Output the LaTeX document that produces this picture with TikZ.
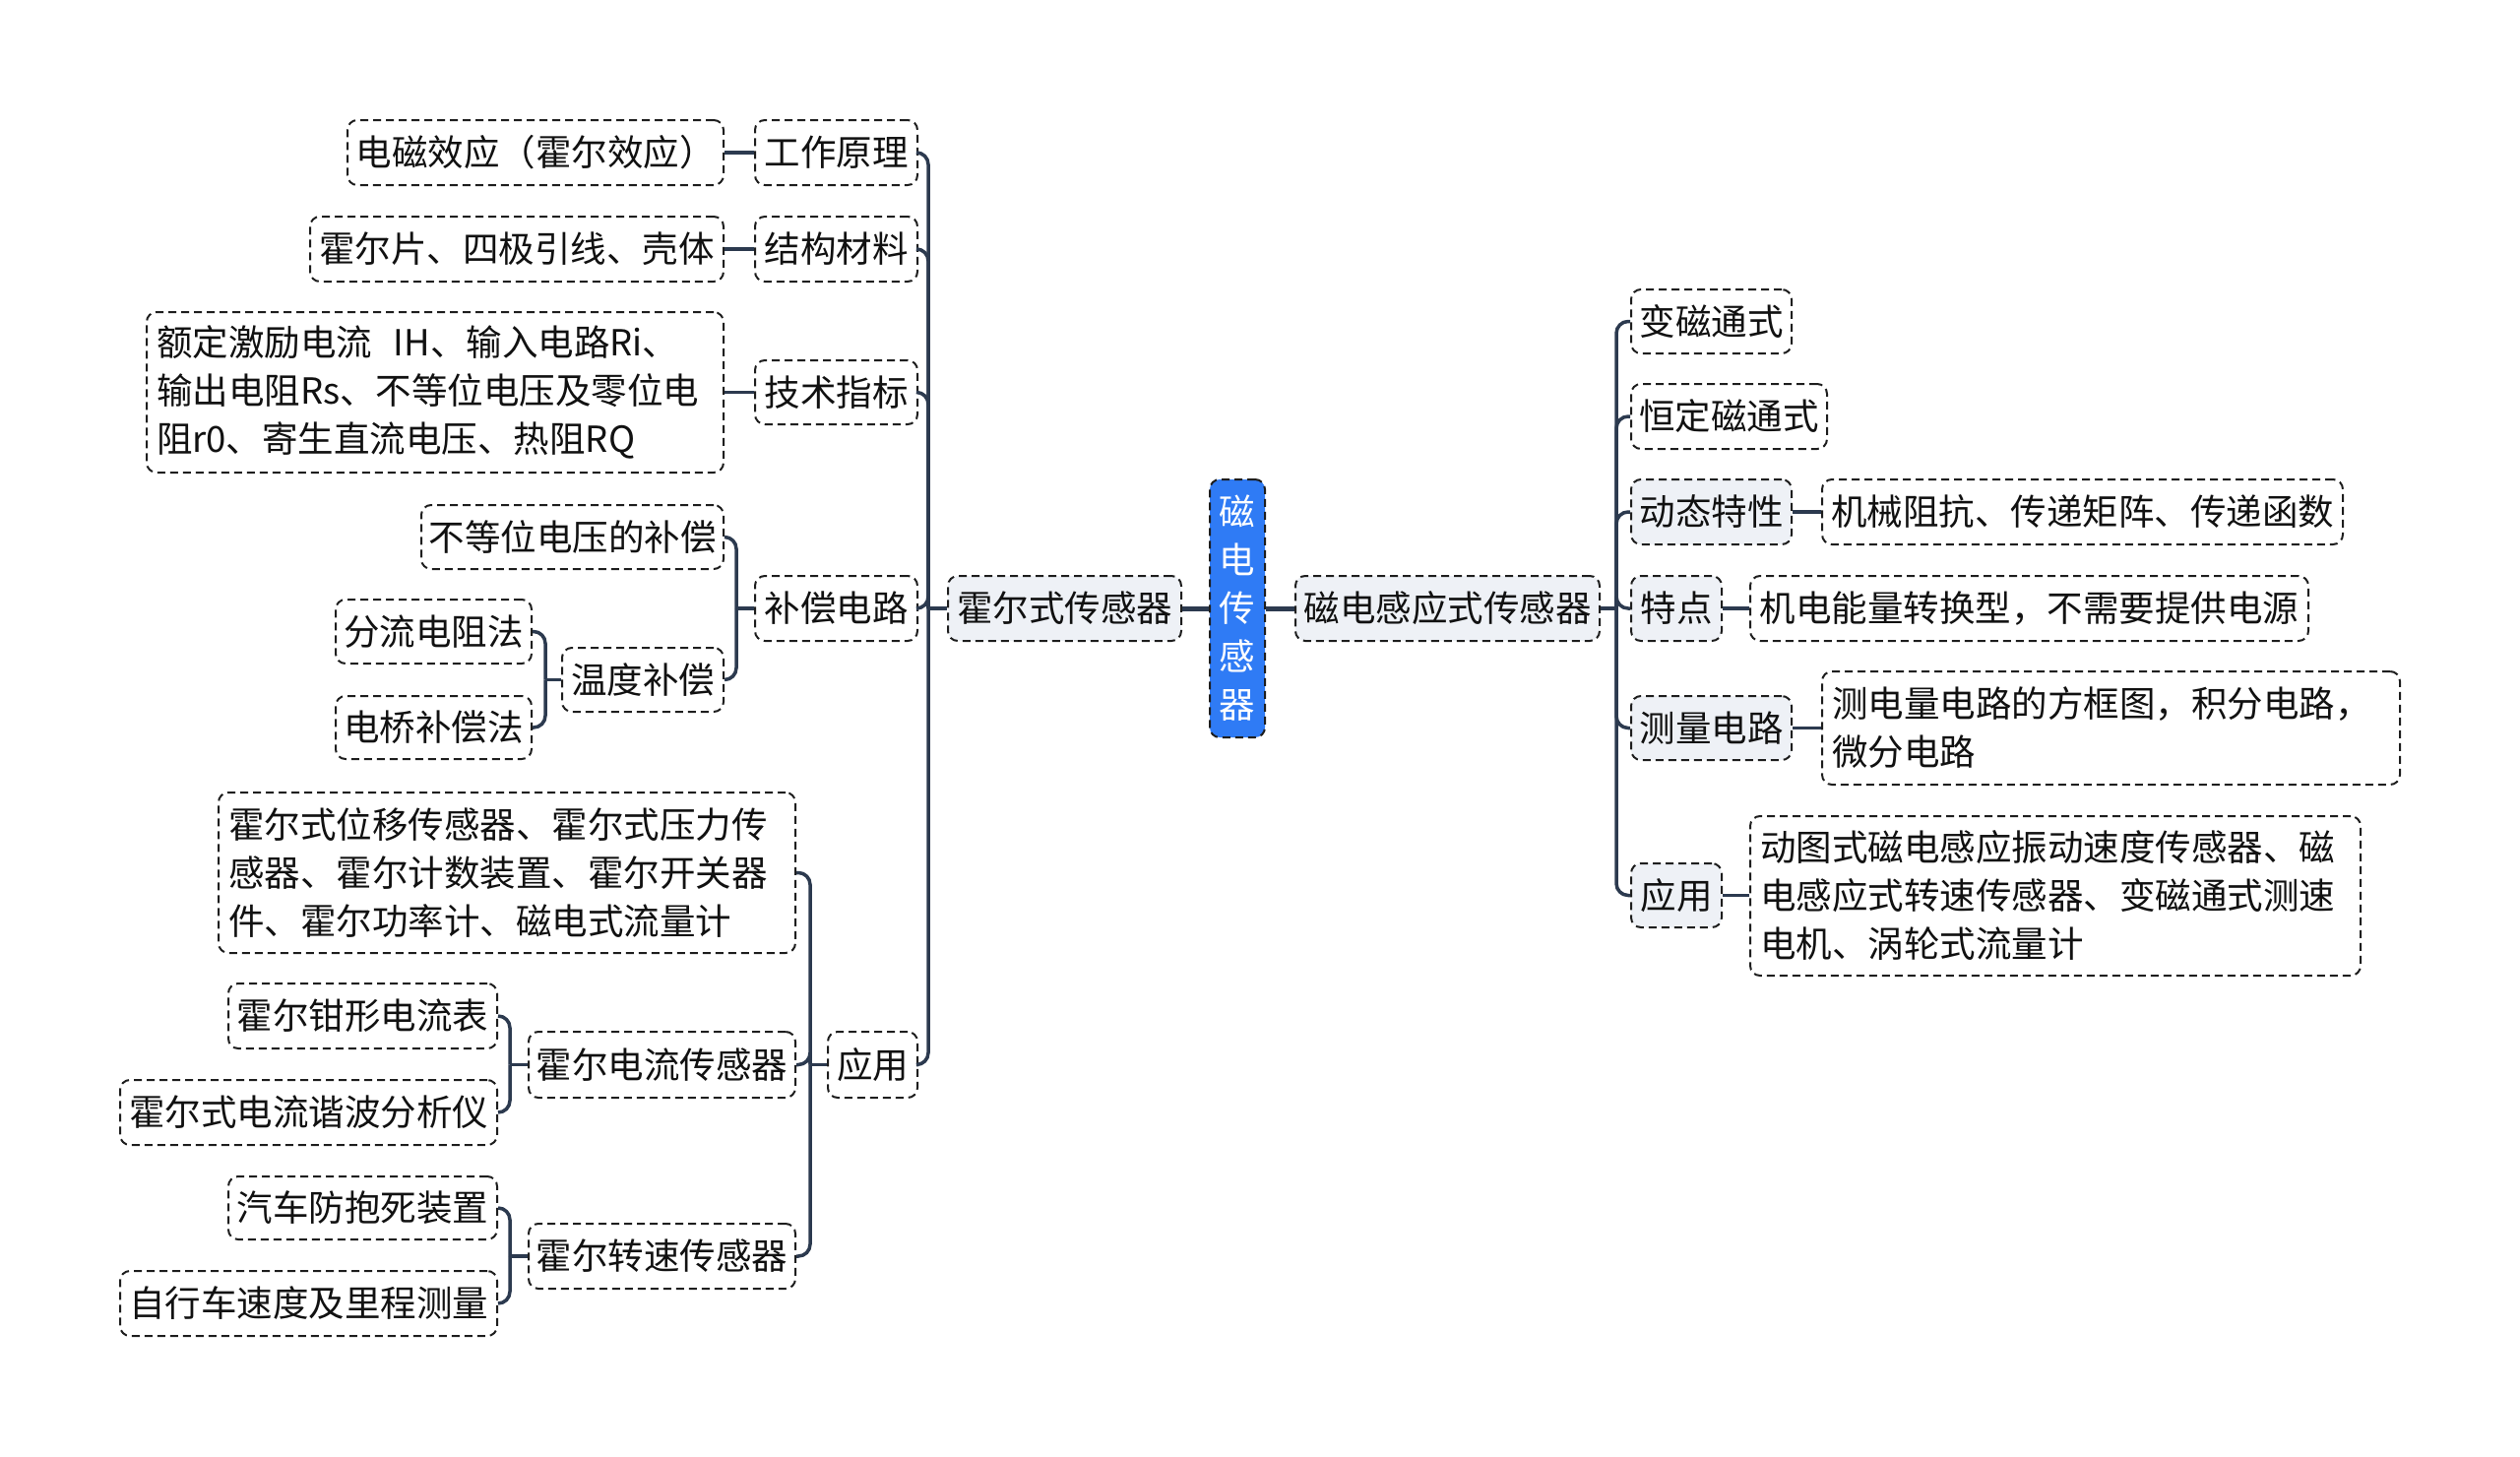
\documentclass[tikz,border=0pt]{standalone}
\usepackage{fontspec}
\setmainfont{Noto Sans CJK SC}
\usetikzlibrary{calc}
\definecolor{lnc}{HTML}{2C3A4F}
\definecolor{bdc}{HTML}{1E1E1E}
\definecolor{gfill}{HTML}{EEF1F6}
\definecolor{bfill}{HTML}{2F7BF5}
\definecolor{txt}{HTML}{111111}
\newcommand\fs{\fontsize{36.5}{49}\selectfont}
\tikzset{
  box/.style={draw=bdc, line width=2pt, dash pattern=on 8pt off 5pt, rounded corners=10pt,
    inner sep=0pt, font=\fs, text=txt},
  gbox/.style={box, fill=gfill},
  mbox/.style={box, align=left, inner xsep=10pt},
  rootbox/.style={box, fill=bfill, text=white, align=center},
  conn/.style={draw=lnc, line width=3.5pt, rounded corners=12pt},
  thick conn/.style={draw=lnc, line width=5pt},
}
\begin{document}
\begin{tikzpicture}[x=1pt,y=-1pt]
\fill[white] (0,0) rectangle (2560,1480);
\useasboundingbox (0,0) rectangle (2560,1480);

% root and first level
\node[rootbox, minimum width=56, minimum height=262] (root) at (1257,618) {磁\\电\\传\\感\\器};
\node[gbox, minimum width=237, minimum height=66] (hall) at (1081.5,618) {霍尔式传感器};
\node[gbox, minimum width=309, minimum height=66] (mag) at (1470.5,618) {磁电感应式传感器};

% left second level
\node[box, minimum width=165, minimum height=66] (gz) at (849.5,155) {工作原理};
\node[box, minimum width=165, minimum height=66] (jg) at (849.5,253) {结构材料};
\node[box, minimum width=165, minimum height=65] (js) at (849.5,398.5) {技术指标};
\node[box, minimum width=165, minimum height=66] (bc) at (849.5,618) {补偿电路};
\node[box, minimum width=91, minimum height=67] (yyl) at (886.5,1081.5) {应用};

% left leaves
\node[box, minimum width=382, minimum height=66] (gzt) at (544,155) {电磁效应（霍尔效应）};
\node[box, minimum width=420, minimum height=66] (jgt) at (525,253) {霍尔片、四极引线、壳体};
\node[mbox, text width=566, minimum height=163] (jst) at (442,398.5)
  {额定激励电流\hspace{0.6em}IH、输入电路Ri、\\输出电阻Rs、不等位电压及零位电\\阻r0、寄生直流电压、热阻RQ};
\node[box, minimum width=307, minimum height=65] (bd) at (581.5,545.5) {不等位电压的补偿};
\node[box, minimum width=164, minimum height=65] (wd) at (653,690.5) {温度补偿};
\node[box, minimum width=199, minimum height=65] (fl) at (440.5,641.5) {分流电阻法};
\node[box, minimum width=199, minimum height=64] (dq) at (440.5,739) {电桥补偿法};
\node[mbox, text width=566, minimum height=163] (yyt) at (515,886.5)
  {霍尔式位移传感器、霍尔式压力传\\感器、霍尔计数装置、霍尔开关器\\件、霍尔功率计、磁电式流量计};
\node[box, minimum width=271, minimum height=67] (dl) at (672.5,1081.5) {霍尔电流传感器};
\node[box, minimum width=271, minimum height=66] (zs) at (672.5,1276) {霍尔转速传感器};
\node[box, minimum width=273, minimum height=66] (qx) at (368.5,1032) {霍尔钳形电流表};
\node[box, minimum width=383, minimum height=66] (xb) at (313.5,1130) {霍尔式电流谐波分析仪};
\node[box, minimum width=273, minimum height=64] (qc) at (368.5,1227) {汽车防抱死装置};
\node[box, minimum width=383, minimum height=66] (zx) at (313.5,1324) {自行车速度及里程测量};

% right side
\node[box, minimum width=163, minimum height=65] (bt) at (1738.5,326.5) {变磁通式};
\node[box, minimum width=199, minimum height=66] (hd) at (1756.5,423) {恒定磁通式};
\node[gbox, minimum width=163, minimum height=66] (dt) at (1738.5,520) {动态特性};
\node[box, minimum width=529, minimum height=66] (dtt) at (2115.5,520) {机械阻抗、传递矩阵、传递函数};
\node[gbox, minimum width=92, minimum height=66] (td) at (1703,618) {特点};
\node[box, minimum width=567, minimum height=66] (tdt) at (2061.5,618) {机电能量转换型，不需要提供电源};
\node[gbox, minimum width=163, minimum height=65] (cl) at (1738.5,739.5) {测量电路};
\node[mbox, text width=567, minimum height=115] (clt) at (2144.5,739.5)
  {测电量电路的方框图，积分电路，\\微分电路};
\node[gbox, minimum width=92, minimum height=65] (ry) at (1703,909.5) {应用};
\node[mbox, text width=600, minimum height=162] (ryt) at (2088,910)
  {动图式磁电感应振动速度传感器、磁\\电感应式转速传感器、变磁通式测速\\电机、涡轮式流量计};

% connectors: root
\draw[thick conn] (hall.east) -- (root.west);
\draw[thick conn] (root.east) -- (mag.west);

% hall -> second level
\coordinate (hT) at ([xshift=-19]hall.west);
\draw[conn] (hall.west) -- (hT);
\foreach \c in {gz,jg,js,bc,yyl} \draw[conn] (hT) |- (\c.east);

% direct leaves
\draw[conn] (gz.west) -- (gzt.east);
\draw[conn] (jg.west) -- (jgt.east);
\draw[conn] (js.west) -- (js.west -| jst.east);

% compensation
\coordinate (bT) at ([xshift=-18]bc.west);
\draw[conn] (bc.west) -- (bT);
\foreach \c in {bd,wd} \draw[conn] (bT) |- (\c.east);
\coordinate (wT) at ([xshift=-16]wd.west);
\draw[conn] (wd.west) -- (wT);
\foreach \c in {fl,dq} \draw[conn] (wT) |- (\c.east);

% application (left)
\coordinate (aT) at ([xshift=-17]yyl.west);
\draw[conn] (yyl.west) -- (aT);
\foreach \c in {yyt,dl,zs} \draw[conn] (aT) |- (\c.east);
\coordinate (dT) at ([xshift=-18]dl.west);
\draw[conn] (dl.west) -- (dT);
\foreach \c in {qx,xb} \draw[conn] (dT) |- (\c.east);
\coordinate (zT) at ([xshift=-18]zs.west);
\draw[conn] (zs.west) -- (zT);
\foreach \c in {qc,zx} \draw[conn] (zT) |- (\c.east);

% right side
\coordinate (mT) at ([xshift=16]mag.east);
\draw[conn] (mag.east) -- (mT);
\foreach \c in {bt,hd,dt,td,cl,ry} \draw[conn] (mT) |- (\c.west);
\draw[conn] (dt.east) -- (dtt.west);
\draw[conn] (td.east) -- (tdt.west);
\draw[conn] (cl.east) -- (cl.east -| clt.west);
\draw[conn] (ry.east) -- (ry.east -| ryt.west);
\end{tikzpicture}
\end{document}
